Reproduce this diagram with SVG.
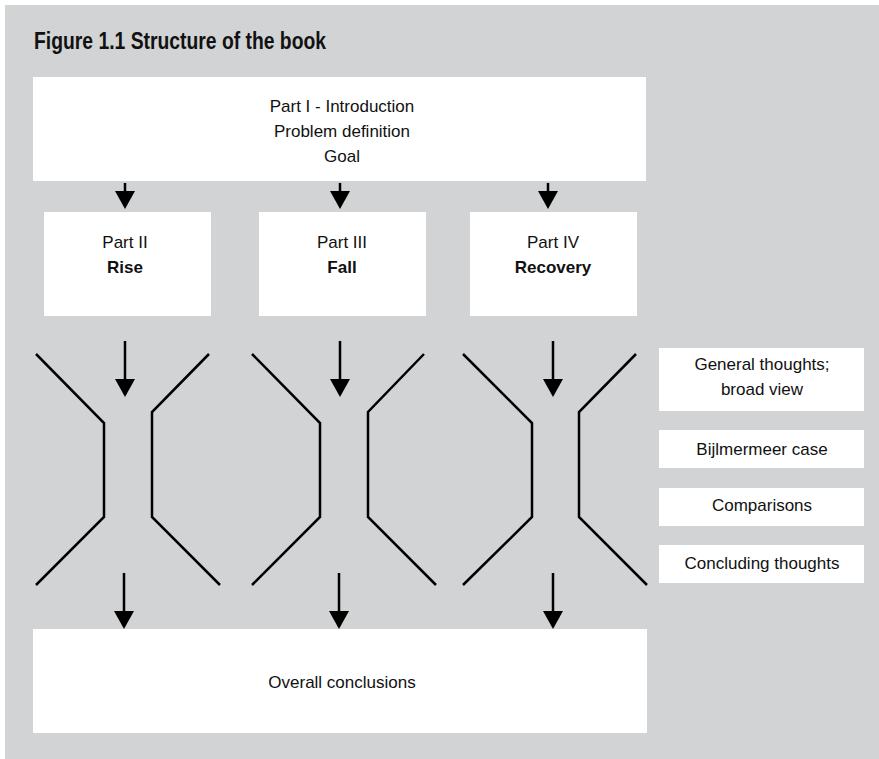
<svg xmlns="http://www.w3.org/2000/svg" width="879" height="759" viewBox="0 0 879 759">
<style>
.bg{fill:#d1d3d4}
.box{fill:#ffffff}
.t{font-family:"Liberation Sans",Arial,sans-serif;font-size:17px;fill:#111;text-anchor:middle}
.b{font-weight:bold}
.title{font-family:"Liberation Sans",Arial,sans-serif;font-size:23px;font-weight:bold;fill:#111}
.ln{fill:none;stroke:#000;stroke-width:2.5}
.ar{fill:none;stroke:#000;stroke-width:2.5}
.hd{fill:#000}
</style>
<rect class="bg" x="5" y="5" width="874" height="754"/>
<text class="title" x="34" y="49" textLength="292" lengthAdjust="spacingAndGlyphs">Figure 1.1 Structure of the book</text>
<g id="intro">
<rect class="box" x="33" y="77" width="613" height="104"/>
<text class="t" x="342" y="112">Part I - Introduction</text>
<text class="t" x="342" y="137">Problem definition</text>
<text class="t" x="342" y="162">Goal</text>
</g>
<g id="part2">
<rect class="box" x="44" y="212" width="167" height="104"/>
<text class="t" x="125" y="248">Part II</text>
<text class="t b" x="125" y="273">Rise</text>
</g>
<g id="part3">
<rect class="box" x="259" y="212" width="167" height="104"/>
<text class="t" x="342" y="248">Part III</text>
<text class="t b" x="342" y="273">Fall</text>
</g>
<g id="part4">
<rect class="box" x="470" y="212" width="167" height="104"/>
<text class="t" x="553" y="248">Part IV</text>
<text class="t b" x="553" y="273">Recovery</text>
</g>
<g id="general">
<rect class="box" x="659" y="348" width="205" height="63"/>
<text class="t" x="762" y="370">General thoughts;</text>
<text class="t" x="762" y="395">broad view</text>
</g>
<g id="case">
<rect class="box" x="659" y="430" width="205" height="38"/>
<text class="t" x="762" y="455">Bijlmermeer case</text>
</g>
<g id="comparisons">
<rect class="box" x="659" y="488" width="205" height="38"/>
<text class="t" x="762" y="511">Comparisons</text>
</g>
<g id="concluding">
<rect class="box" x="659" y="545" width="205" height="38"/>
<text class="t" x="762" y="569">Concluding thoughts</text>
</g>
<g id="conclusions">
<rect class="box" x="33" y="629" width="614" height="104"/>
<text class="t" x="342" y="688">Overall conclusions</text>
</g>
<g id="funnels">
<polyline class="ln" points="36,354 104,423 104,517 36,585"/>
<polyline class="ln" points="209,354 152,412 152,517 220,585"/>
<polyline class="ln" points="252,354 320,423 320,517 252,585"/>
<polyline class="ln" points="424,354 368,412 368,517 436,585"/>
<polyline class="ln" points="463,354 532,423 532,517 463,585"/>
<polyline class="ln" points="636,354 579,412 579,517 647,585"/>
</g>
<g id="connectors">
<line class="ar" x1="125" y1="183" x2="125" y2="193"/><polygon class="hd" points="115,191 135,191 125,209"/>
<line class="ar" x1="340" y1="183" x2="340" y2="193"/><polygon class="hd" points="330,191 350,191 340,209"/>
<line class="ar" x1="548" y1="183" x2="548" y2="193"/><polygon class="hd" points="538,191 558,191 548,209"/>
<line class="ar" x1="125" y1="341" x2="125" y2="381"/><polygon class="hd" points="115,379 135,379 125,397"/>
<line class="ar" x1="340" y1="341" x2="340" y2="381"/><polygon class="hd" points="330,379 350,379 340,397"/>
<line class="ar" x1="553" y1="341" x2="553" y2="381"/><polygon class="hd" points="543,379 563,379 553,397"/>
<line class="ar" x1="124" y1="573" x2="124" y2="613"/><polygon class="hd" points="114,611 134,611 124,629"/>
<line class="ar" x1="339" y1="573" x2="339" y2="613"/><polygon class="hd" points="329,611 349,611 339,629"/>
<line class="ar" x1="553" y1="573" x2="553" y2="613"/><polygon class="hd" points="543,611 563,611 553,629"/>
</g>
</svg>
